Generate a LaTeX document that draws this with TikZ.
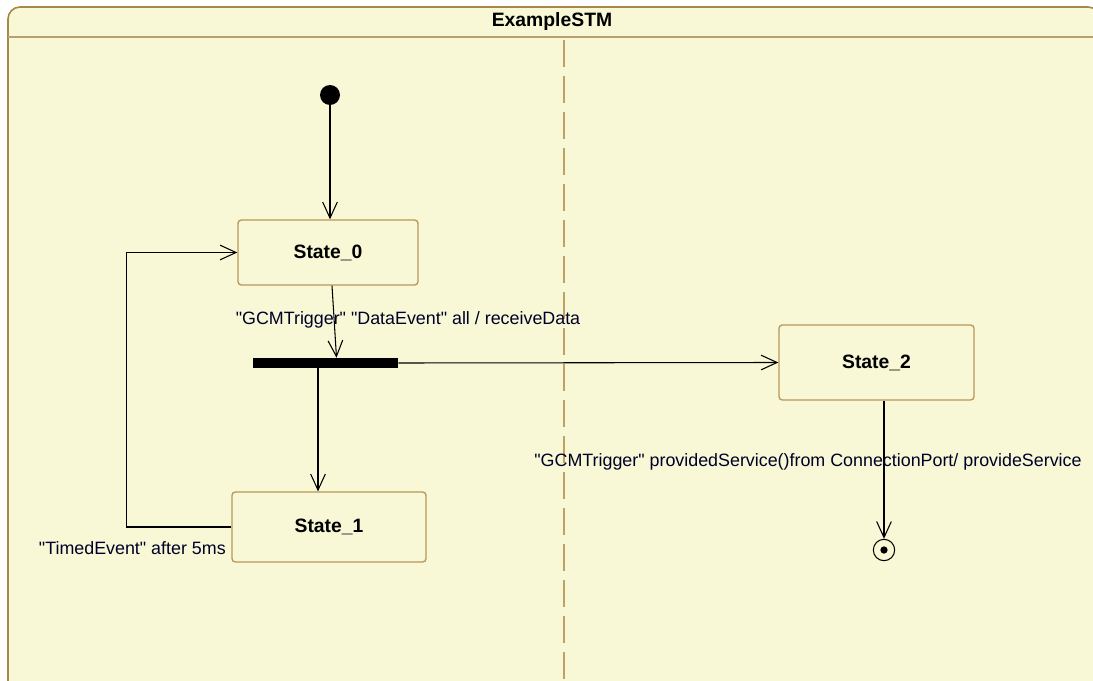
\documentclass[tikz,border=0pt]{standalone}
\usepackage{fontspec}
\setmainfont{Liberation Sans}
\usepackage{xcolor}
\usetikzlibrary{positioning, calc, arrows.meta}

\definecolor{stmfill}{HTML}{F8F8D6}
\definecolor{stmframe}{HTML}{A8884A}
\definecolor{stateline}{HTML}{B8985A}
\definecolor{regionline}{HTML}{BCA264}

\newcommand{\qname}[1]{\textquotedbl#1\textquotedbl}

\begin{document}
\begin{tikzpicture}[x=0.75pt, y=-0.75pt,
    statebox/.style={draw=stateline, line width=1pt, rounded corners=2.5pt, fill=stmfill,
      font=\fontsize{14.5}{17}\selectfont\bfseries},
    trans/.style={-{Straight Barb[length=12pt, width=11pt]}, line width=0.8pt},
    trlabel/.style={font=\fontsize{13.4}{16}\selectfont, text=black!85!blue, inner sep=0pt}]
        \useasboundingbox (0,0) rectangle (1093,681);
        \begin{scope}
          \clip (0,0) rectangle (1093,681);
          % state machine frame
          \draw[stmframe, line width=1.2pt, fill=stmfill, rounded corners=9pt] (8,7) rectangle (1100,694);
          \draw[stmframe!80, line width=1.5pt] (8,37) -- (1100,37);
          \node[font=\fontsize{14.5}{17}\selectfont\bfseries] (title) at (552,22) {ExampleSTM};
          % region separator
          \draw[regionline, line width=1pt, dash pattern=on 20pt off 7pt] (564,40) -- (564,690);
        \end{scope}

        % pseudo states
        \node[circle, fill=black, inner sep=0pt, minimum size=15pt] (init) at (330,95) {};
        \node[circle, draw, line width=0.8pt, fill=stmfill, inner sep=0pt, minimum size=16pt] (final) at (884,550) {};
        \node[circle, fill=black, inner sep=0pt, minimum size=5.5pt] (finaldot) at (final) {};
        \node[fill=black, inner sep=0pt, minimum width=108.75pt, minimum height=7.5pt] (fork) at (325.5,363) {};

        % states
        \node[statebox, minimum width=135pt, minimum height=48.75pt] (s0) at (328,252.5) {State\_0};
        \node[statebox, minimum width=145.5pt, minimum height=52.5pt] (s1) at (329,527) {State\_1};
        \node[statebox, minimum width=146.25pt, minimum height=56.25pt] (s2) at (876.5,362.5) {State\_2};

        % transitions
        \coordinate (s0out) at ($(s0.south)+(4,0)$);
        \coordinate (forkin) at ($(fork.north)+(11,0)$);
        \coordinate (forkout) at ($(fork.south)+(-7.5,0)$);
        \draw[trans] (init) -- (s0.north -| init);
        \draw[trans] (s0out) -- (forkin);
        \draw[trans] (forkout) -- (forkout |- s1.north);
        \draw[trans] (fork.east) -- (s2.west);
        \draw[trans] (final.north |- s2.south) -- (final.north);
        \draw[trans] (s1.west) -- ++(-105,0) |- (s0.west);

        \node[trlabel] (lblfork) at (408,320) {\qname{GCMTrigger} \qname{DataEvent} all / receiveData};
        \node[trlabel] (lblfinal) at (808,462) {\qname{GCMTrigger} providedService()from ConnectionPort/ provideService};
        \node[trlabel, anchor=east] (lbltimed) at (226,548) {\qname{TimedEvent} after 5ms};
      \end{tikzpicture}
\end{document}
